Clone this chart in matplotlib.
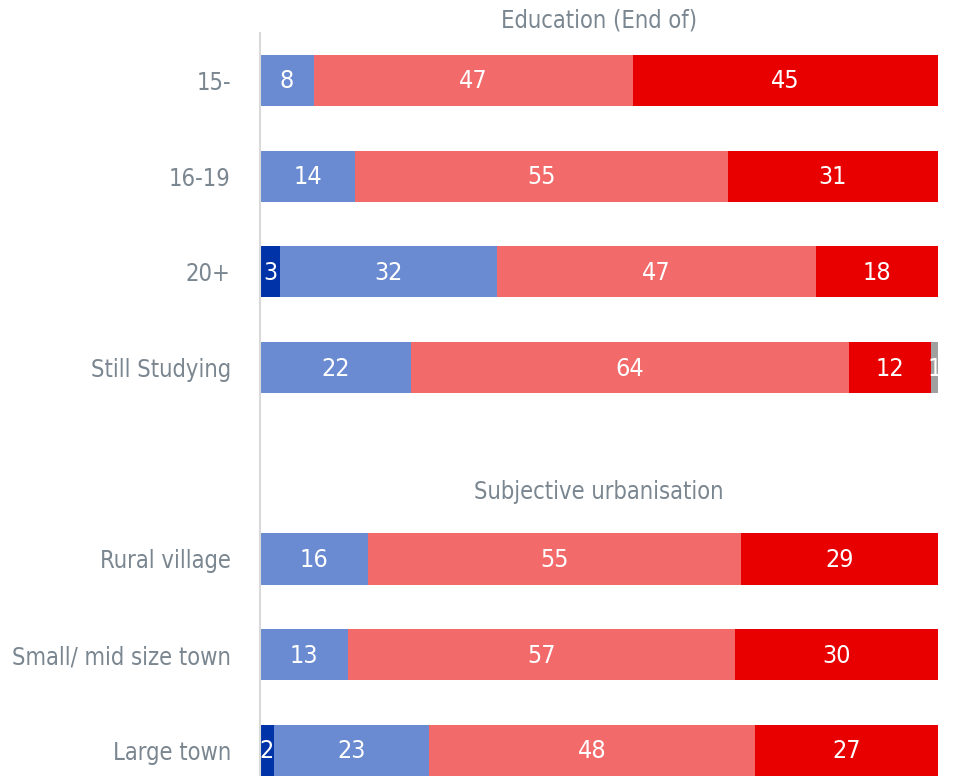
import numpy as np
import matplotlib
matplotlib.use("Agg")
import matplotlib.pyplot as plt

# Daten
categories = ["15-", "16-19", "20+", "Still Studying",
              "Rural village", "Small/ mid size town", "Large town"]
rows = [0, 1, 2, 3, 5, 6, 7]
dark_blue = [0, 0, 3, 0, 0, 0, 2]
light_blue = [8, 14, 32, 22, 16, 13, 23]
salmon = [47, 55, 47, 64, 55, 57, 48]
red = [45, 31, 18, 12, 29, 30, 27]
grey = [0, 0, 0, 1, 0, 0, 0]
headers = ["Education (End of)", "Subjective urbanisation"]

series = [dark_blue, light_blue, salmon, red, grey]
colors = ["#0033a8", "#6a8bd2", "#f26a6a", "#e80000", "#a0a0a0"]

plt.rcParams["font.family"] = ["DejaVu Sans"]
plt.rcParams["font.stretch"] = "condensed"
label_col = "#7a8690"

fig = plt.figure(figsize=(9.54, 7.76), dpi=100)
ax = fig.add_axes([260 / 954, 0, 678 / 954, 1 - 33 / 776])

# Anteile auf 100 normieren (Balken laufen bis zum rechten Rand)
vals = np.array(series, dtype=float)
totals = vals.sum(axis=0)
shares = vals / totals * 100

left = np.zeros(len(categories))
for s, raw, col in zip(shares, vals, colors):
    ax.barh(rows, s, left=left, height=0.535, color=col, edgecolor="none")
    for y, l, w, v in zip(rows, left, s, raw):
        if v > 0:
            ax.text(l + w / 2, y + 0.01, f"{v:.0f}", ha="center", va="center",
                    color="white", fontsize=18)
    left += s

ax.set_xlim(0, 100)
ax.set_ylim(7.268, -0.496)
ax.set_yticks(rows)
ax.set_yticklabels(categories, fontsize=17, color=label_col)
ax.tick_params(axis="y", length=0, pad=21)
ax.set_xticks([])
for sp in ["top", "right", "bottom"]:
    ax.spines[sp].set_visible(False)
ax.spines["left"].set_color("#d9d9d9")
ax.spines["left"].set_linewidth(1.5)

ax.text(50, -0.63, headers[0], ha="center", va="center", fontsize=17,
        color=label_col, clip_on=False)
ax.text(50, 4.3, headers[1], ha="center", va="center", fontsize=17,
        color=label_col)

fig.savefig("out.png", dpi=100)
